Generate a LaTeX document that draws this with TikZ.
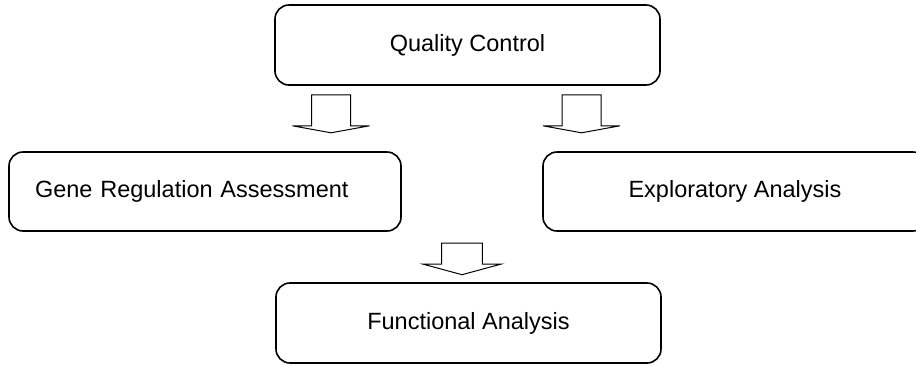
\documentclass[tikz,border=0pt]{standalone}
\usepackage{fontspec}
\setmainfont{Liberation Sans}
\usetikzlibrary{calc}
\newcommand\blockarr[5]{% origin, stem length, head height, half stem width, half head width
  \path[arrowline] ($(#1)+(-#4,0)$) -- ($(#1)+(-#4,#2)$) -- ($(#1)+(-#5,#2)$) -- ($(#1)+(0,#2+#3)$) -- ($(#1)+(#5,#2)$) -- ($(#1)+(#4,#2)$) -- ($(#1)+(#4,0)$) -- cycle;}
\begin{document}
\begin{tikzpicture}[x=1pt,y=-1pt,
  box/.style={draw=black, line width=1.6pt, rounded corners=14pt, minimum height=79pt, inner sep=0pt, font=\fontsize{23.5}{28}\selectfont},
  arrowline/.style={draw=black, fill=white, line width=1pt, line join=miter}
]
\useasboundingbox (0,0) rectangle (916,365);
\clip (0,0) rectangle (916,365);
\node[box, minimum width=385pt, minimum height=80pt] (qc) at (467.5,45) {Quality Control};
\node[box, minimum width=392pt, text width=340pt, align=left, inner xsep=26pt] (gra) at (205,191.5) {Gene Regulation Assessment};
\node[box, minimum width=384pt] (ea) at (735,191.5) {Exploratory Analysis};
\node[box, minimum width=385pt, minimum height=80pt] (fa) at (468.5,323) {Functional Analysis};
\coordinate (a1) at ($(qc.south)+(-136.5,9)$);
\coordinate (a2) at ($(qc.south)+(114,9)$);
\coordinate (a3) at ($(fa.north)+(-6.5,-39)$);
\blockarr{a1}{31}{7}{19.5}{38.5}
\blockarr{a2}{31}{7}{19.5}{38.5}
\blockarr{a3}{21}{10.5}{20.3}{38.7}
\end{tikzpicture}
\end{document}
